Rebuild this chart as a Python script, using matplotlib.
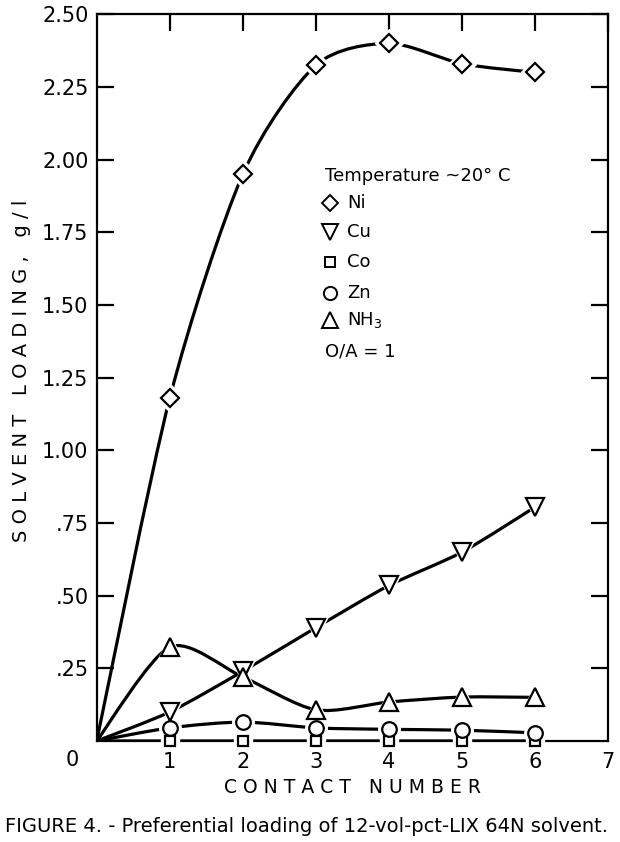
"""Figure 4 - preferential loading of 12-vol-pct-LIX 64N solvent."""
import numpy as np
import matplotlib
matplotlib.use('Agg')
import matplotlib.pyplot as plt
from matplotlib.path import Path
from matplotlib.patches import PathPatch

plt.rcParams['font.family'] = ['DejaVu Sans']

# contact number (0 = fresh solvent)
contact = [0, 1, 2, 3, 4, 5, 6]
# solvent loading, g/l
ni = [0, 1.18, 1.95, 2.325, 2.40, 2.33, 2.30]
cu = [0, 0.10, 0.24, 0.39, 0.535, 0.65, 0.805]
co = [0, 0.0, 0.0, 0.0, 0.0, 0.0, 0.0]
zn = [0, 0.045, 0.065, 0.045, 0.040, 0.037, 0.028]
nh3 = [0, 0.323, 0.22, 0.107, 0.134, 0.151, 0.150]

series = [
    ('Ni', ni, 'D', 9.5),
    ('Cu', cu, 'v', 12.5),
    ('Co', co, 's', 7.5),
    ('Zn', zn, 'o', 10.5),
    ('NH$_3$', nh3, '^', 12.5),
]

yticks = [0.25, 0.5, 0.75, 1.0, 1.25, 1.5, 1.75, 2.0, 2.25, 2.5]
ytick_labels = ['.25', '.50', '.75', '1.00', '1.25', '1.50', '1.75', '2.00', '2.25', '2.50']


def smooth_path(xs, ys, k=0.8):
    # Catmull-Rom style curve through the points (k < 1 = a bit tighter)
    pts = np.column_stack([xs, ys]).astype(float)
    n = len(pts)
    verts = [pts[0]]
    codes = [Path.MOVETO]
    for i in range(n - 1):
        p0 = pts[i - 1] if i > 0 else pts[i]
        p1, p2 = pts[i], pts[i + 1]
        p3 = pts[i + 2] if i + 2 < n else pts[i + 1]
        verts += [p1 + k * (p2 - p0) / 6, p2 - k * (p3 - p1) / 6, p2]
        codes += [Path.CURVE4] * 3
    return Path(verts, codes)


fig = plt.figure(figsize=(6.2, 8.42), dpi=100)
ax = fig.add_axes([0.156, 0.120, 0.825, 0.863])

for name, vals, mk, ms in series:
    ax.add_patch(PathPatch(smooth_path(contact, vals), fill=False, lw=2.3,
                           color='black', capstyle='round', zorder=2))
    # white halo so the curve breaks round each symbol
    ax.plot(contact[1:], vals[1:], ls='none', marker=mk, ms=ms + 5,
            mfc='white', mec='white', zorder=3, clip_on=False)
    ax.plot(contact[1:], vals[1:], ls='none', marker=mk, ms=ms,
            mfc='white', mec='black', mew=1.6, zorder=4, clip_on=False)

ax.set_xlim(0, 7)
ax.set_ylim(0, 2.5)
for s in ax.spines.values():
    s.set_linewidth(1.6)

ax.set_xticks(range(1, 8))
ax.set_xticklabels([str(v) for v in range(1, 8)], fontsize=15)
ax.set_yticks(yticks)
ax.set_yticklabels(ytick_labels, fontsize=15)
ax.tick_params(axis='x', which='both', direction='in', bottom=False, top=True,
               length=12, width=1.6, pad=8)
ax.tick_params(axis='y', which='both', direction='in', left=True, right=True,
               length=12, width=1.6, pad=6)
ax.text(-0.035, -0.012, '0', transform=ax.transAxes, ha='right', va='top', fontsize=15)

ax.set_xlabel('C O N T A C T   N U M B E R', fontsize=13.5, labelpad=4)
ax.set_ylabel('S O L V E N T   L O A D I N G ,   g / l', fontsize=14)
ax.yaxis.set_label_coords(-0.128, 0.51)

# key
ax.text(0.446, 0.778, 'Temperature ~20° C', transform=ax.transAxes,
        fontsize=13, va='center')
key_y = [0.740, 0.700, 0.659, 0.617, 0.579]
for (name, vals, mk, ms), yk in zip(series, key_y):
    ax.plot([0.456], [yk], transform=ax.transAxes, marker=mk, ms=ms - 1,
            mfc='white', mec='black', mew=1.4, ls='none')
    ax.text(0.49, yk, name, transform=ax.transAxes, fontsize=13, va='center')
ax.text(0.446, 0.536, 'O/A = 1', transform=ax.transAxes, fontsize=13, va='center')

fig.text(0.008, 0.019, 'FIGURE 4. - Preferential loading of 12-vol-pct-LIX 64N solvent.',
         fontsize=14, ha='left', va='center')

fig.savefig('out.png', dpi=100)
plt.close(fig)
